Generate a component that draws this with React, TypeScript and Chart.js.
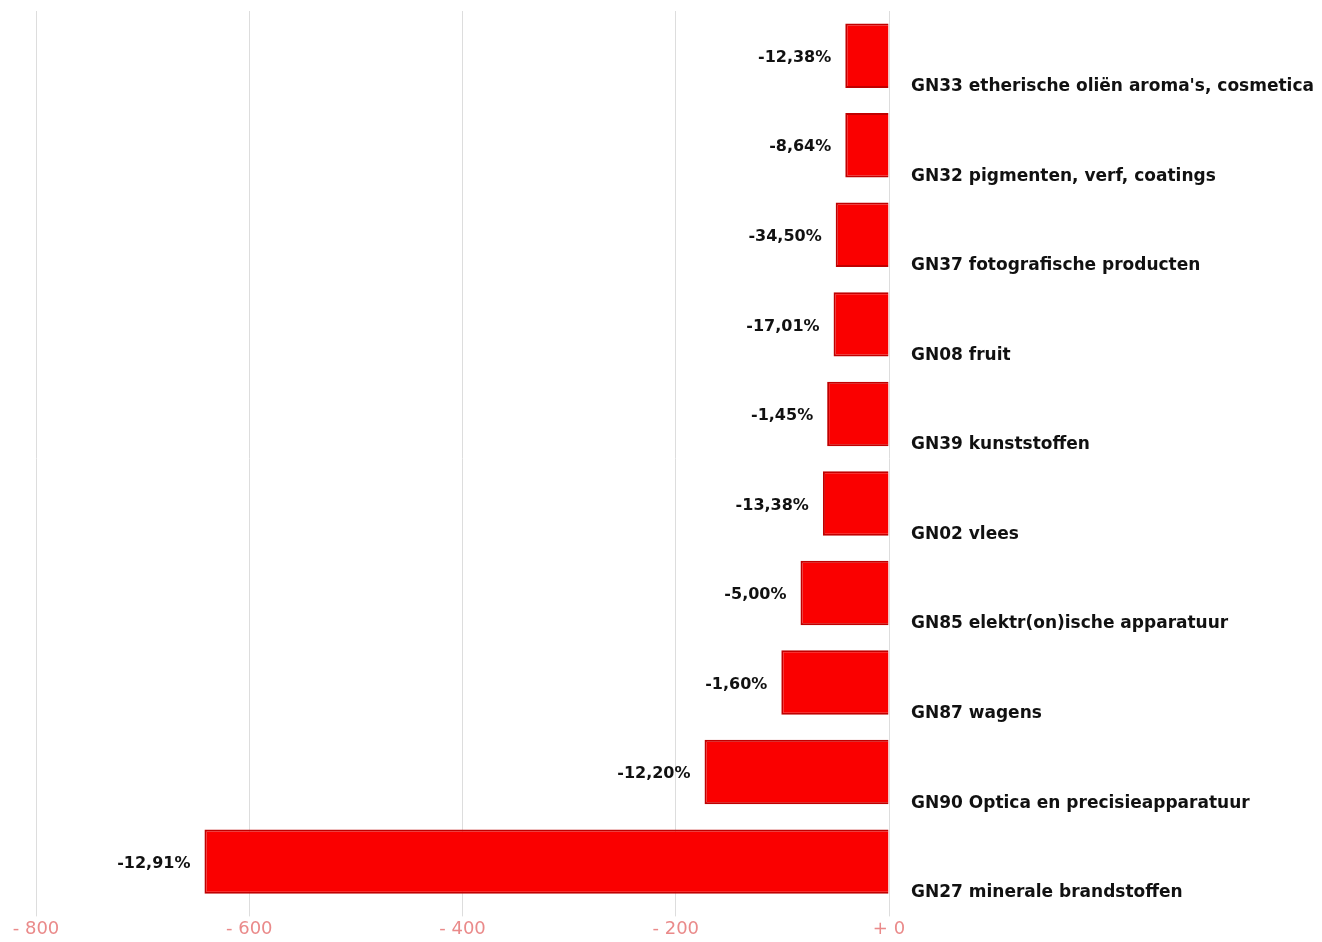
import React, { useEffect, useRef } from "react";
import { Chart, registerables } from "chart.js";

Chart.register(...registerables);

const categories = [
  "GN33 etherische oliën aroma's, cosmetica",
  "GN32 pigmenten, verf, coatings",
  "GN37 fotografische producten",
  "GN08 fruit",
  "GN39 kunststoffen",
  "GN02 vlees",
  "GN85 elektr(on)ische apparatuur",
  "GN87 wagens",
  "GN90 Optica en precisieapparatuur",
  "GN27 minerale brandstoffen",
];

const values = [-41, -41, -50, -52, -58, -62, -83, -101, -173, -642];

const pctLabels = [
  "-12,38%",
  "-8,64%",
  "-34,50%",
  "-17,01%",
  "-1,45%",
  "-13,38%",
  "-5,00%",
  "-1,60%",
  "-12,20%",
  "-12,91%",
];

const FONT = "'DejaVu Sans', sans-serif";

const valueLabelPlugin = {
  id: "valueLabels",
  afterDatasetsDraw(chart: any) {
    const ctx = chart.ctx;
    const meta = chart.getDatasetMeta(0);
    ctx.save();
    ctx.font = `bold 16px ${FONT}`;
    ctx.fillStyle = "#111";
    ctx.textAlign = "right";
    ctx.textBaseline = "middle";
    meta.data.forEach((el: any, i: number) => {
      ctx.fillText(pctLabels[i], el.x - 14, el.y + 2);
    });
    ctx.restore();
  },
};

export default function App() {
  const ref = useRef<HTMLCanvasElement | null>(null);
  useEffect(() => {
    document.body.style.margin = "0";
    if (!ref.current) return;
    const chart = new Chart(ref.current, {
      type: "bar",
      data: {
        labels: categories,
        datasets: [
          {
            data: values,
            backgroundColor: "#fa0000",
            borderColor: "#c00000",
            borderWidth: 2,
            barPercentage: 0.8,
            categoryPercentage: 0.9,
          },
        ],
      },
      options: {
        indexAxis: "y",
        animation: false,
        responsive: false,
        maintainAspectRatio: false,
        layout: { padding: { left: 36, top: 11, right: 0, bottom: 0 } },
        plugins: {
          legend: { display: false },
          tooltip: { enabled: false },
        },
        scales: {
          x: {
            min: -800,
            max: 0,
            ticks: {
              stepSize: 200,
              color: "#ea8a8a",
              font: { family: FONT, size: 18 },
              padding: 2,
              callback: (v: any) => (Number(v) < 0 ? "- " + Math.abs(Number(v)) : "+ 0"),
            },
            grid: { color: "#dddddd", tickLength: 10, lineWidth: 1 },
            border: { display: false },
          },
          y: {
            position: "right",
            grid: { display: false },
            border: { display: false },
            ticks: {
              color: "#111",
              font: { family: FONT, size: 17, weight: "bold" },
              labelOffset: 31,
              padding: 14,
              crossAlign: "near",
            },
            afterFit: (scale: any) => {
              scale.width = 433;
              scale.paddingTop = 0;
              scale.paddingBottom = 0;
            },
          },
        },
      },
      plugins: [valueLabelPlugin],
    });
    return () => chart.destroy();
  }, []);
  return <canvas ref={ref} width={1322} height={942} style={{ display: "block" }} />;
}
